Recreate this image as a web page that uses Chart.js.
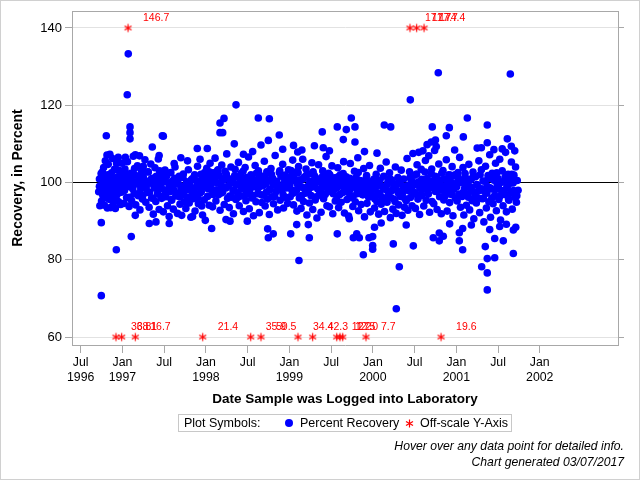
<!DOCTYPE html>
<html><head><meta charset="utf-8">
<script src="https://cdn.jsdelivr.net/npm/chart.js@4.4.1/dist/chart.umd.min.js"></script>
<style>
html,body{margin:0;padding:0;background:#fff;}
#wrap{position:relative;width:640px;height:480px;overflow:hidden;font-family:"Liberation Sans",Arial,sans-serif;background:#fff;}
#frame{position:absolute;left:0;top:0;width:640px;height:480px;box-sizing:border-box;border:1px solid #d0d0d0;pointer-events:none;}
canvas{position:absolute;left:0;top:0;}
#legend{position:absolute;left:178px;top:414px;width:334px;height:18px;box-sizing:border-box;border:1px solid #c8c8c8;font-size:12.5px;line-height:16px;color:#000;white-space:nowrap;}
#legend span,#legend svg,#legend i{position:absolute;}
.dot{display:block;width:8px;height:8px;border-radius:50%;background:#0000ff;}
#notes{position:absolute;right:16px;top:438px;text-align:right;font-size:12.2px;line-height:16px;font-style:italic;color:#000;white-space:nowrap;}
</style>
</head><body>
<div id="wrap">
<canvas id="c" width="640" height="480"></canvas>
<div id="legend">
  <span style="left:5px;top:0">Plot Symbols:</span>
  <i class="dot" style="left:106px;top:4px"></i>
  <span style="left:121px;top:0">Percent Recovery</span>
  <svg width="9" height="9" style="left:226px;top:4px"><g stroke="#ff0000" stroke-width="1.2"><line x1="4.5" y1="0.5" x2="4.5" y2="8.5"/><line x1="1" y1="2.5" x2="8" y2="6.5"/><line x1="1" y1="6.5" x2="8" y2="2.5"/></g></svg>
  <span style="left:241px;top:0">Off-scale Y-Axis</span>
</div>
<div id="notes">Hover over any data point for detailed info.<br>Chart generated 03/07/2017</div>
<div id="frame"></div>
</div>
<script>
// ---------- DATA ----------
const xTickDates = [1996.5, 1997.0, 1997.5, 1998.0, 1998.5, 1999.0, 1999.5, 2000.0, 2000.5, 2001.0, 2001.5, 2002.0];
const xTickLabels = [["Jul","1996"],["Jan","1997"],["Jul",""],["Jan","1998"],["Jul",""],["Jan","1999"],["Jul",""],["Jan","2000"],["Jul",""],["Jan","2001"],["Jul",""],["Jan","2002"]];
const yTickValues = [60, 80, 100, 120, 140];
const referenceValue = 100;
const offscaleHighPlot = 140;
const offscaleLowPlot = 60;

const offscaleHighDates = [1997.067, 2000.445, 2000.525, 2000.613];
const offscaleHighValues = [146.7, 171.7, 177.7, 174.4];
const offscaleLowDates = [1996.923, 1996.991, 1997.154, 1997.962, 1998.537, 1998.660, 1999.103, 1999.279, 1999.567, 1999.606, 1999.639, 1999.918, 2000.817];
const offscaleLowValues = [36.8, 38.1, 16.7, 21.4, 35.9, 50.5, 34.4, 42.3, 11.2, 12.5, 27.0, 7.7, 19.6];

const recovery1996 = [[1996.716,97.6],[1996.725,100.9],[1996.73,94.0],[1996.747,70.7],[1996.747,89.6],[1996.75,95.2],[1996.752,98.4],[1996.755,101.6],[1996.758,99.1],[1996.76,102.8],[1996.765,96.7],[1996.77,100.5],[1996.772,97.3],[1996.775,103.9],[1996.78,99.8],[1996.785,94.1],[1996.79,101.2],[1996.795,105.6],[1996.80,98.2],[1996.805,100.9],[1996.807,112.1],[1996.81,96.0],[1996.815,107.1],[1996.82,93.4],[1996.825,99.5],[1996.83,104.7],[1996.835,97.9],[1996.84,101.8],[1996.845,95.6],[1996.85,107.3],[1996.855,100.2],[1996.86,93.5],[1996.865,98.8],[1996.87,102.5],[1996.875,96.4],[1996.88,106.2],[1996.885,99.3],[1996.89,94.8],[1996.895,101.0],[1996.90,97.6],[1996.905,103.4],[1996.91,100.6],[1996.915,93.3],[1996.92,98.5],[1996.927,82.6],[1996.93,104.9],[1996.935,96.9],[1996.94,101.4],[1996.945,99.0],[1996.95,106.5],[1996.955,95.0],[1996.96,100.1],[1996.965,97.4],[1996.97,103.0],[1996.975,98.0],[1996.98,94.3],[1996.985,101.9],[1996.99,99.6],[1996.995,105.0],
[1996.725,99.0],[1996.745,102.3],[1996.765,98.1],[1996.785,100.4],[1996.805,96.8],[1996.825,102.0],[1996.845,99.3],[1996.865,101.2],[1996.885,97.0],[1996.905,100.7],[1996.925,95.8],[1996.945,103.2],[1996.965,99.8],[1996.985,97.5]];

const recovery1997 = [[1997.00,97.8],[1997.01,101.3],[1997.02,94.6],[1997.03,103.5],[1997.04,99.2],[1997.05,96.1],[1997.06,105.4],[1997.07,100.7],[1997.08,93.8],[1997.09,98.9],[1997.10,102.4],[1997.11,95.3],[1997.12,100.0],[1997.13,106.8],[1997.14,97.1],[1997.15,101.9],[1997.16,94.2],[1997.17,99.6],[1997.18,104.3],[1997.19,96.6],[1997.20,100.8],[1997.21,92.9],[1997.22,98.3],[1997.23,103.0],[1997.24,95.7],[1997.25,101.5],[1997.26,99.0],[1997.27,105.9],[1997.28,94.9],[1997.29,100.3],[1997.30,97.4],[1997.31,102.7],[1997.32,93.6],[1997.33,99.8],[1997.34,104.8],[1997.35,96.0],[1997.36,101.1],[1997.37,91.8],[1997.38,98.6],[1997.39,103.8],[1997.40,95.1],[1997.41,100.6],[1997.42,97.0],[1997.43,106.1],[1997.44,93.0],[1997.45,99.4],[1997.46,102.0],[1997.47,95.9],[1997.48,100.9],[1997.49,92.4],[1997.50,98.1],[1997.51,103.2],[1997.52,96.3],[1997.53,101.7],[1997.54,94.0],[1997.55,99.9],[1997.56,91.2],[1997.57,97.6],[1997.58,102.6],[1997.59,95.4],[1997.60,100.4],[1997.61,93.1],[1997.62,98.0],[1997.63,104.0],[1997.64,96.5],[1997.65,99.7],[1997.66,92.0],[1997.67,97.2],[1997.68,101.6],[1997.69,94.4],[1997.70,99.1],[1997.71,91.5],[1997.72,96.8],[1997.73,102.2],[1997.74,95.0],[1997.75,98.7],[1997.76,93.3],[1997.77,100.2],[1997.78,96.2],[1997.79,103.3],[1997.80,94.7],[1997.81,99.3],[1997.82,91.0],[1997.83,97.7],[1997.84,101.0],[1997.85,95.8],[1997.86,98.4],[1997.87,92.6],[1997.88,100.5],[1997.89,96.9],[1997.90,104.2],[1997.91,94.5],[1997.92,99.0],[1997.93,97.3],[1997.94,102.1],[1997.95,93.9],[1997.96,98.8],[1997.97,101.4],[1997.98,95.5],[1997.99,100.1],
[1997.035,106.5],[1997.058,122.7],[1997.07,133.3],[1997.091,114.4],[1997.091,112.9],[1997.091,111.3],[1997.106,86.0],[1997.154,91.5],[1997.155,107.2],[1997.205,106.9],[1997.25,104.2],[1997.322,89.4],[1997.358,109.2],[1997.402,89.8],[1997.44,107.0],[1997.478,112.1],[1997.49,112.0],[1997.561,89.4],[1997.62,104.9],[1997.70,106.4],[1997.78,105.6],[1997.84,91.2],[1997.897,108.8],[1997.93,106.0],[1997.96,91.6],[1997.993,90.2],
[1997.005,100.6],[1997.025,97.9],[1997.045,102.1],[1997.065,99.0],[1997.085,96.2],[1997.105,101.4],[1997.125,98.3],[1997.145,103.6],[1997.165,100.2],[1997.185,97.1],[1997.205,99.5],[1997.225,101.9],[1997.245,96.7],[1997.265,100.0],[1997.285,98.6],[1997.305,102.8],[1997.325,97.4],[1997.345,100.9],[1997.365,95.9],[1997.385,99.2],[1997.405,101.6],[1997.425,98.0],[1997.445,103.0],[1997.465,99.7],[1997.485,96.4],[1997.505,100.3],[1997.525,97.7],[1997.545,102.4],[1997.565,98.9],[1997.585,95.6],[1997.605,99.4],[1997.625,101.1],[1997.645,97.0],[1997.665,100.0],[1997.685,96.3],[1997.705,98.5],[1997.725,101.3],[1997.745,97.8],[1997.765,99.6],[1997.785,95.4],[1997.805,98.2],[1997.825,100.7],[1997.845,97.1],[1997.865,102.0],[1997.885,98.8],[1997.905,96.0],[1997.925,100.4],[1997.945,97.6],[1997.965,99.1],[1997.985,102.6]];

const recovery1998 = [[1998.00,99.5],[1998.01,103.7],[1998.02,96.4],[1998.03,101.2],[1998.04,94.1],[1998.05,105.0],[1998.06,98.2],[1998.07,100.9],[1998.08,93.7],[1998.09,102.5],[1998.10,97.0],[1998.11,106.3],[1998.12,95.2],[1998.13,100.0],[1998.14,103.1],[1998.15,96.8],[1998.16,101.8],[1998.17,92.8],[1998.18,99.2],[1998.19,104.5],[1998.20,97.5],[1998.21,100.6],[1998.22,94.3],[1998.23,102.9],[1998.24,98.6],[1998.25,107.4],[1998.26,95.9],[1998.27,101.0],[1998.28,93.5],[1998.29,99.7],[1998.30,104.0],[1998.31,96.2],[1998.32,100.4],[1998.33,91.9],[1998.34,98.0],[1998.35,103.4],[1998.36,95.6],[1998.37,101.5],[1998.38,97.3],[1998.39,105.2],[1998.40,94.0],[1998.41,99.9],[1998.42,102.3],[1998.43,96.5],[1998.44,100.8],[1998.45,92.5],[1998.46,98.4],[1998.47,103.9],[1998.48,95.3],[1998.49,101.3],[1998.50,97.8],[1998.51,106.6],[1998.52,93.2],[1998.53,99.4],[1998.54,102.0],[1998.55,96.0],[1998.56,100.2],[1998.57,91.4],[1998.58,98.9],[1998.59,104.4],[1998.60,95.0],[1998.61,100.7],[1998.62,97.1],[1998.63,103.0],[1998.64,92.2],[1998.65,99.0],[1998.66,101.7],[1998.67,94.8],[1998.68,100.1],[1998.69,96.7],[1998.70,105.5],[1998.71,93.9],[1998.72,99.6],[1998.73,102.8],[1998.74,95.7],[1998.75,100.5],[1998.76,91.7],[1998.77,98.1],[1998.78,103.6],[1998.79,96.3],[1998.80,101.1],[1998.81,94.5],[1998.82,99.3],[1998.83,107.0],[1998.84,97.6],[1998.85,100.3],[1998.86,92.9],[1998.87,98.5],[1998.88,102.6],[1998.89,95.4],[1998.90,101.6],[1998.91,97.9],[1998.92,104.7],[1998.93,93.4],[1998.94,99.8],[1998.95,101.9],[1998.96,96.1],[1998.97,100.0],[1998.98,94.6],[1998.99,103.3],
[1998.017,108.8],[1998.069,88.1],[1998.169,115.4],[1998.169,112.9],[1998.201,112.9],[1998.217,116.6],[1998.241,90.4],[1998.289,90.0],[1998.340,110.0],[1998.361,120.1],[1998.496,90.0],[1998.628,116.7],[1998.660,109.7],[1998.748,110.9],[1998.740,88.0],[1998.748,85.7],[1998.760,116.5],[1998.807,86.7],[1998.879,112.3],[1998.45,107.3],[1998.56,108.0],[1998.92,108.6],
[1998.005,101.0],[1998.025,98.4],[1998.045,102.7],[1998.065,99.6],[1998.085,96.9],[1998.105,101.5],[1998.125,98.1],[1998.145,103.3],[1998.165,99.9],[1998.185,97.3],[1998.205,100.8],[1998.225,98.7],[1998.245,102.2],[1998.265,99.0],[1998.285,96.5],[1998.305,100.5],[1998.325,97.9],[1998.345,101.8],[1998.365,99.4],[1998.385,96.2],[1998.405,100.1],[1998.425,98.3],[1998.445,102.9],[1998.465,99.7],[1998.485,97.0],[1998.505,100.9],[1998.525,98.0],[1998.545,101.4],[1998.565,96.6],[1998.585,99.8],[1998.605,102.4],[1998.625,98.5],[1998.645,100.3],[1998.665,96.8],[1998.685,99.2],[1998.705,101.7],[1998.725,97.5],[1998.745,100.6],[1998.765,98.2],[1998.785,102.1],[1998.805,99.5],[1998.825,96.4],[1998.845,100.2],[1998.865,98.9],[1998.885,103.0],[1998.905,99.1],[1998.925,96.9],[1998.945,100.7],[1998.965,98.6],[1998.985,101.2]];

const recovery1999 = [[1999.00,100.4],[1999.01,96.3],[1999.02,103.1],[1999.03,98.0],[1999.04,105.8],[1999.05,94.2],[1999.06,101.0],[1999.07,97.5],[1999.08,102.7],[1999.09,92.6],[1999.10,99.4],[1999.11,104.1],[1999.12,96.0],[1999.13,100.7],[1999.14,93.3],[1999.15,98.8],[1999.16,106.0],[1999.17,95.1],[1999.18,101.4],[1999.19,97.2],[1999.20,103.5],[1999.21,91.6],[1999.22,99.0],[1999.23,102.2],[1999.24,94.7],[1999.25,100.3],[1999.26,96.6],[1999.27,105.1],[1999.28,93.0],[1999.29,99.7],[1999.30,101.8],[1999.31,95.5],[1999.32,100.9],[1999.33,90.8],[1999.34,98.3],[1999.35,104.6],[1999.36,96.9],[1999.37,100.1],[1999.38,92.3],[1999.39,98.6],[1999.40,103.0],[1999.41,95.8],[1999.42,101.6],[1999.43,97.0],[1999.44,106.7],[1999.45,94.0],[1999.46,99.5],[1999.47,102.4],[1999.48,93.7],[1999.49,100.6],[1999.50,97.7],[1999.51,104.3],[1999.52,91.9],[1999.53,98.2],[1999.54,101.2],[1999.55,95.2],[1999.56,100.0],[1999.57,96.4],[1999.58,103.8],[1999.59,93.5],[1999.60,99.1],[1999.61,102.0],[1999.62,94.9],[1999.63,100.8],[1999.64,97.4],[1999.65,105.4],[1999.66,92.1],[1999.67,98.7],[1999.68,101.5],[1999.69,95.6],[1999.70,99.9],[1999.71,91.3],[1999.72,97.9],[1999.73,104.9],[1999.74,96.1],[1999.75,100.2],[1999.76,93.8],[1999.77,99.3],[1999.78,102.9],[1999.79,95.0],[1999.80,101.3],[1999.81,97.1],[1999.82,106.4],[1999.83,92.7],[1999.84,98.5],[1999.85,100.5],[1999.86,94.3],[1999.87,99.6],[1999.88,96.8],[1999.89,103.6],[1999.90,91.1],[1999.91,97.6],[1999.92,101.1],[1999.93,94.6],[1999.94,99.2],[1999.95,96.2],[1999.96,104.4],[1999.97,92.4],[1999.98,98.1],[1999.99,100.0],
[1999.016,86.7],[1999.05,109.6],[1999.088,89.1],[1999.10,107.9],[1999.115,79.8],[1999.15,108.4],[1999.227,89.1],[1999.239,85.7],[1999.30,109.5],[1999.394,113.1],[1999.406,109.0],[1999.48,108.2],[1999.574,114.4],[1999.574,86.7],[1999.646,111.1],[1999.682,113.7],[1999.718,90.6],[1999.742,116.7],[1999.766,85.7],[1999.786,114.4],[1999.786,110.5],[1999.807,86.7],[1999.838,85.7],[1999.886,81.3],[1999.90,108.0],[1999.954,85.7],[1999.998,86.0],[1999.998,83.7],[1999.998,82.7],
[1999.005,99.3],[1999.025,101.6],[1999.045,97.2],[1999.065,100.4],[1999.085,98.0],[1999.105,102.5],[1999.125,99.1],[1999.145,96.6],[1999.165,100.9],[1999.185,98.4],[1999.205,101.9],[1999.225,97.6],[1999.245,100.1],[1999.265,98.8],[1999.285,102.8],[1999.305,99.5],[1999.325,96.3],[1999.345,100.6],[1999.365,97.9],[1999.385,101.3],[1999.405,99.0],[1999.425,96.8],[1999.445,100.3],[1999.465,98.2],[1999.485,102.0],[1999.505,99.7],[1999.525,97.1],[1999.545,100.8],[1999.565,98.5],[1999.585,101.5],[1999.605,96.9],[1999.625,99.4],[1999.645,102.3],[1999.665,98.1],[1999.685,100.0],[1999.705,97.4],[1999.725,101.1],[1999.745,99.2],[1999.765,96.5],[1999.785,100.5],[1999.805,98.3],[1999.825,102.6],[1999.845,99.6],[1999.865,97.0],[1999.885,100.2],[1999.905,98.7],[1999.925,101.8],[1999.945,97.7],[1999.965,99.9],[1999.985,96.4]];

const recovery2000 = [[2000.00,96.5],[2000.01,100.8],[2000.02,93.4],[2000.03,98.6],[2000.04,102.1],[2000.05,95.0],[2000.06,99.7],[2000.07,91.8],[2000.08,97.3],[2000.09,103.7],[2000.10,94.4],[2000.11,99.0],[2000.12,96.0],[2000.13,101.6],[2000.14,92.5],[2000.15,98.2],[2000.16,105.3],[2000.17,94.9],[2000.18,100.1],[2000.19,96.7],[2000.20,102.5],[2000.21,90.9],[2000.22,97.8],[2000.23,100.6],[2000.24,93.1],[2000.25,99.4],[2000.26,95.6],[2000.27,104.0],[2000.28,92.0],[2000.29,98.0],[2000.30,101.3],[2000.31,94.2],[2000.32,99.8],[2000.33,96.4],[2000.34,103.2],[2000.35,91.5],[2000.36,97.5],[2000.37,100.9],[2000.38,93.6],[2000.39,98.9],[2000.40,95.3],[2000.41,106.2],[2000.42,92.8],[2000.43,99.2],[2000.44,102.8],[2000.45,96.1],[2000.46,100.4],[2000.47,94.0],[2000.48,107.5],[2000.49,97.0],[2000.50,101.9],[2000.51,93.3],[2000.52,99.5],[2000.53,104.6],[2000.54,95.7],[2000.55,100.2],[2000.56,91.7],[2000.57,98.4],[2000.58,103.4],[2000.59,96.6],[2000.60,100.7],[2000.61,93.9],[2000.62,99.1],[2000.63,105.7],[2000.64,95.4],[2000.65,101.0],[2000.66,97.4],[2000.67,106.9],[2000.68,92.3],[2000.69,98.7],[2000.70,102.3],[2000.71,95.1],[2000.72,100.0],[2000.73,94.5],[2000.74,108.3],[2000.75,97.7],[2000.76,101.4],[2000.77,93.0],[2000.78,99.3],[2000.79,104.8],[2000.80,96.3],[2000.81,100.5],[2000.82,91.9],[2000.83,98.0],[2000.84,103.1],[2000.85,95.5],[2000.86,100.9],[2000.87,97.2],[2000.88,105.9],[2000.89,92.6],[2000.90,99.6],[2000.91,102.0],[2000.92,94.8],[2000.93,100.3],[2000.94,96.9],[2000.95,104.1],[2000.96,91.4],[2000.97,98.3],[2000.98,101.7],[2000.99,95.9],
[2000.02,88.4],[2000.05,107.6],[2000.10,89.5],[2000.137,114.9],[2000.214,114.4],[2000.245,84.1],[2000.281,67.3],[2000.317,78.2],[2000.40,89.0],[2000.449,121.4],[2000.485,83.6],[2000.55,107.8],[2000.60,108.2],[2000.65,109.8],[2000.70,110.5],[2000.712,114.4],[2000.724,85.7],[2000.75,111.0],[2000.76,109.3],[2000.784,128.4],[2000.796,86.9],[2000.796,84.9],[2000.844,86.1],[2000.880,112.1],[2000.916,114.2],[2000.92,89.3],[2000.98,108.4],
[2000.005,98.2],[2000.025,95.7],[2000.045,99.9],[2000.065,97.0],[2000.085,100.6],[2000.105,96.3],[2000.125,98.8],[2000.145,95.4],[2000.165,99.3],[2000.185,97.6],[2000.205,101.0],[2000.225,96.0],[2000.245,98.4],[2000.265,95.1],[2000.285,99.6],[2000.305,97.3],[2000.325,100.2],[2000.345,96.6],[2000.365,98.9],[2000.385,95.8],[2000.405,99.1],[2000.425,97.9],[2000.445,101.3],[2000.465,98.6],[2000.485,100.0],[2000.505,97.4],[2000.525,102.2],[2000.545,99.2],[2000.565,96.7],[2000.585,100.8],[2000.605,98.3],[2000.625,102.7],[2000.645,99.5],[2000.665,97.0],[2000.685,100.4],[2000.705,103.5],[2000.725,98.8],[2000.745,101.6],[2000.765,97.8],[2000.785,100.1],[2000.805,98.5],[2000.825,102.4],[2000.845,99.0],[2000.865,96.5],[2000.885,100.7],[2000.905,98.1],[2000.925,101.9],[2000.945,97.2],[2000.965,99.4],[2000.985,102.0]];

const recovery2001 = [[2001.00,99.8],[2001.01,95.2],[2001.02,102.6],[2001.03,97.0],[2001.04,106.5],[2001.05,93.6],[2001.06,100.1],[2001.07,96.4],[2001.08,103.9],[2001.09,91.6],[2001.10,98.5],[2001.11,101.2],[2001.12,94.1],[2001.13,99.7],[2001.14,97.1],[2001.15,104.7],[2001.16,92.9],[2001.17,98.8],[2001.18,100.9],[2001.19,95.3],[2001.20,102.7],[2001.21,90.6],[2001.22,97.4],[2001.23,101.5],[2001.24,94.7],[2001.25,99.3],[2001.26,96.0],[2001.27,105.6],[2001.28,92.2],[2001.29,98.1],[2001.30,103.3],[2001.31,95.8],[2001.32,100.4],[2001.33,89.8],[2001.34,97.6],[2001.35,104.2],[2001.36,93.4],[2001.37,99.0],[2001.38,101.8],[2001.39,95.0],[2001.40,107.2],[2001.41,91.0],[2001.42,98.3],[2001.43,102.4],[2001.44,94.5],[2001.45,100.6],[2001.46,96.6],[2001.47,105.0],[2001.48,92.7],[2001.49,99.5],[2001.50,101.0],[2001.51,95.6],[2001.52,106.0],[2001.53,90.3],[2001.54,97.9],[2001.55,103.0],[2001.56,94.0],[2001.57,100.2],[2001.58,96.9],[2001.59,107.8],[2001.60,92.4],[2001.61,98.6],[2001.62,102.1],[2001.63,95.4],[2001.64,100.7],[2001.65,97.3],[2001.66,105.3],[2001.67,93.1],[2001.68,99.9],[2001.69,101.9],[2001.70,96.2],[2001.71,104.0],[2001.72,94.9],[2001.73,100.5],[2001.74,98.0],
[2001.036,84.9],[2001.036,87.0],[2001.076,88.1],[2001.076,82.6],[2001.084,111.8],[2001.132,116.7],[2001.18,89.0],[2001.25,108.9],[2001.30,109.0],[2001.304,78.2],[2001.347,83.4],[2001.371,114.9],[2001.371,110.3],[2001.371,76.6],[2001.371,80.3],[2001.371,72.2],[2001.40,87.8],[2001.45,108.5],[2001.460,80.5],[2001.460,85.5],[2001.52,88.6],[2001.55,108.7],[2001.563,84.9],[2001.60,89.2],[2001.611,111.3],[2001.647,128.1],[2001.659,109.4],[2001.683,81.6],[2001.683,87.7],[2001.70,108.2],[2001.712,88.4],
[2001.005,98.9],[2001.025,101.2],[2001.045,96.8],[2001.065,100.0],[2001.085,97.5],[2001.105,102.3],[2001.125,99.1],[2001.145,96.2],[2001.165,100.6],[2001.185,98.0],[2001.205,101.7],[2001.225,96.9],[2001.245,99.5],[2001.265,97.8],[2001.285,102.0],[2001.305,98.4],[2001.325,95.9],[2001.345,100.3],[2001.365,97.2],[2001.385,101.0],[2001.405,98.6],[2001.425,96.0],[2001.445,100.9],[2001.465,98.1],[2001.485,102.5],[2001.505,99.3],[2001.525,96.5],[2001.545,100.1],[2001.565,97.6],[2001.585,101.4],[2001.605,98.8],[2001.625,95.7],[2001.645,99.8],[2001.665,102.1],[2001.685,97.9],[2001.705,100.5],[2001.725,96.6]];

// ---------- CHART ----------
const FONT = '"Liberation Sans", Arial, sans-serif';
const recoveryPoints = [...recovery1996, ...recovery1997, ...recovery1998, ...recovery1999, ...recovery2000, ...recovery2001].map(([x, y]) => ({x, y}));

const star = document.createElement('canvas');
star.width = 11; star.height = 11;
(function(){
  const g = star.getContext('2d');
  g.strokeStyle = '#ff0000'; g.lineWidth = 1.2;
  g.beginPath();
  g.moveTo(5.5, 1.5); g.lineTo(5.5, 9.5);
  g.moveTo(2.0, 3.5); g.lineTo(9.0, 7.5);
  g.moveTo(2.0, 7.5); g.lineTo(9.0, 3.5);
  g.stroke();
})();

const offLabelPlugin = {
  id: 'offLabels',
  afterDatasetsDraw(chart) {
    const c = chart.ctx;
    c.save();
    c.font = '10.5px ' + FONT;
    c.fillStyle = '#ff0000';
    c.textAlign = 'left';
    c.textBaseline = 'middle';
    [[1, offscaleHighValues], [2, offscaleLowValues]].forEach(([i, vals]) => {
      chart.getDatasetMeta(i).data.forEach((el, j) => {
        c.fillText(vals[j].toFixed(1), el.x + 15, el.y - 10);
      });
    });
    c.restore();
  }
};

const topFramePlugin = {
  id: 'topFrame',
  afterDraw(chart) {
    const {left, right, top} = chart.chartArea;
    const c = chart.ctx;
    c.save();
    c.strokeStyle = '#a8a8a8'; c.lineWidth = 1;
    c.beginPath(); c.moveTo(left, top + 0.5); c.lineTo(right, top + 0.5); c.stroke();
    c.restore();
  }
};

const yMin = 57.93, yMax = 144.4;
const setYTicks = s => { s.ticks = yTickValues.map(v => ({value: v})); };

new Chart(document.getElementById('c'), {
  type: 'scatter',
  data: {
    datasets: [
      {label: 'Percent Recovery', data: recoveryPoints, pointRadius: 3.8, pointHoverRadius: 5,
       pointBackgroundColor: '#0000ff', pointBorderWidth: 0, borderColor: '#0000ff', backgroundColor: '#0000ff'},
      {label: 'Off-scale Y-Axis (high)', data: offscaleHighDates.map(d => ({x: d, y: offscaleHighPlot})),
       pointStyle: star, pointRadius: 5, borderColor: '#ff0000'},
      {label: 'Off-scale Y-Axis (low)', data: offscaleLowDates.map(d => ({x: d, y: offscaleLowPlot})),
       pointStyle: star, pointRadius: 5, borderColor: '#ff0000'}
    ]
  },
  options: {
    responsive: false,
    animation: false,
    layout: {padding: {top: 11, bottom: 73, left: 0, right: 0}},
    plugins: {legend: {display: false}, tooltip: {enabled: true}},
    scales: {
      x: {
        type: 'linear', position: 'bottom', min: 1996.396, max: 2002.937,
        afterBuildTicks: s => { s.ticks = xTickDates.map(v => ({value: v})); },
        afterFit: s => { s.height = 62; },
        ticks: {autoSkip: false, maxRotation: 0, padding: 2, color: '#000',
                font: {family: FONT, size: 12.3}, callback: (v, i) => xTickLabels[i]},
        grid: {drawOnChartArea: false, drawTicks: true, tickLength: 8, tickColor: '#a8a8a8'},
        border: {display: true, color: '#a8a8a8'},
        title: {display: true, text: 'Date Sample was Logged into Laboratory', color: '#000',
                font: {family: FONT, size: 13.5, weight: 'bold'}, padding: {top: 0, bottom: 0}}
      },
      y: {
        type: 'linear', position: 'left', min: yMin, max: yMax,
        afterBuildTicks: setYTicks,
        afterFit: s => { s.width = 72; },
        ticks: {padding: 3, color: '#000', font: {family: FONT, size: 13}},
        grid: {color: ctx => (ctx.tick && ctx.tick.value === referenceValue) ? '#000000' : '#e2e2e2',
               drawTicks: true, tickLength: 7, tickColor: '#a8a8a8'},
        border: {display: true, color: '#a8a8a8'},
        title: {display: true, text: 'Recovery, in Percent', color: '#000',
                font: {family: FONT, size: 14, weight: 'bold'}, padding: {top: 10, bottom: 0}}
      },
      yR: {
        type: 'linear', position: 'right', min: yMin, max: yMax,
        afterBuildTicks: setYTicks,
        afterFit: s => { s.width = 22; },
        ticks: {display: false},
        grid: {drawOnChartArea: false, drawTicks: true, tickLength: 6, tickColor: '#a8a8a8'},
        border: {display: true, color: '#a8a8a8'}
      }
    }
  },
  plugins: [offLabelPlugin, topFramePlugin]
});
</script>
</body></html>
